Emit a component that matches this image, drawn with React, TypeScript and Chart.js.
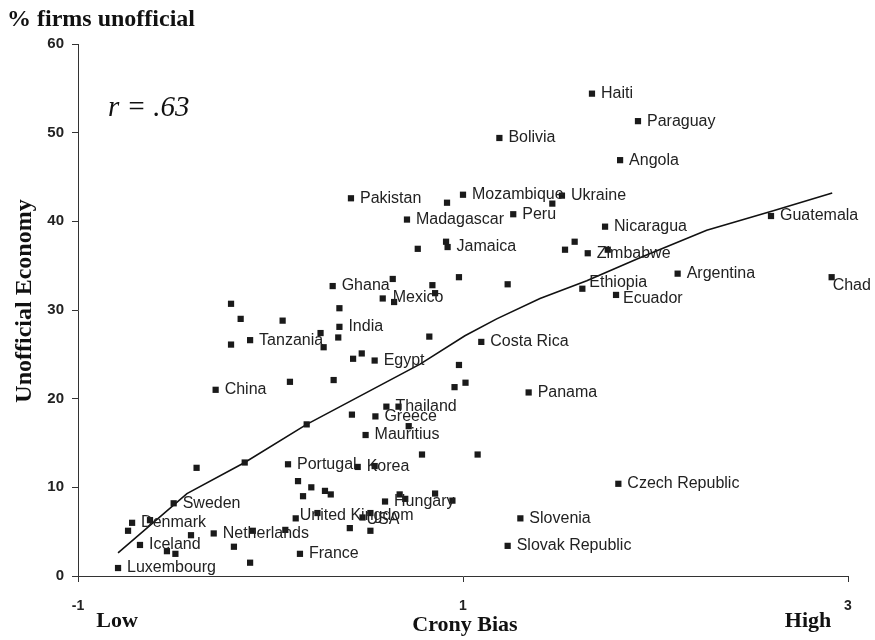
import React, { useEffect, useRef } from 'react';
import { Chart, registerables } from 'chart.js';

Chart.register(...registerables);

// ---- data ----
const countries = [
  'Haiti', 'Paraguay', 'Bolivia', 'Angola', 'Pakistan', 'Mozambique', '', 'Ukraine', '', 'Madagascar',
  'Peru', 'Nicaragua', 'Guatemala', 'Jamaica', '', '', '', '', 'Zimbabwe', '',
  'Argentina', 'Chad', 'Ethiopia', 'Ecuador', '', '', 'Ghana', '', '', '',
  'Mexico', '', '', '', '', '', 'India', '', '', 'Tanzania',
  '', '', '', '', '', 'Egypt', 'China', '', '', '',
  '', '', 'Thailand', '', '', 'Greece', '', '', 'Mauritius', '',
  '', '', '', 'Portugal', 'Korea', '', '', '', '', '',
  '', '', '', 'Hungary', '', '', 'Sweden', 'United Kingdom', '', 'USA',
  '', '', '', 'Denmark', '', '', 'Netherlands', '', '', '',
  'Iceland', '', '', '', 'France', '', 'Luxembourg', 'Costa Rica', 'Panama', 'Czech Republic',
  'Slovenia', 'Slovak Republic',
];

const crony = [
  1.670, 1.909, 1.189, 1.816, 0.418, 1.000, 0.917, 1.514, 1.464, 0.709,
  1.261, 1.738, 2.600, 0.920, 0.912, 0.765, 1.530, 1.580, 1.648, 1.752,
  2.115, 2.915, 1.620, 1.795, 0.979, 1.232, 0.323, 0.635, 0.841, 0.855,
  0.583, 0.642, -0.205, 0.358, -0.155, 0.063, 0.358, 0.260, 0.352, -0.106,
  -0.205, 0.276, 0.825, 0.429, 0.474, 0.541, -0.285, 0.101, 0.328, 0.979,
  0.956, 1.013, 0.602, 0.665, 0.423, 0.545, 0.188, 0.718, 0.494, 0.787,
  1.076, -0.384, -0.134, 0.091, 0.453, 0.541, 0.143, 0.212, 0.169, 0.283,
  0.313, 0.671, 0.700, 0.595, 0.855, 0.945, -0.503, 0.131, 0.244, 0.478,
  0.519, 0.412, 0.519, -0.719, -0.626, -0.740, -0.295, -0.413, -0.092, 0.077,
  -0.678, -0.538, -0.494, -0.190, 0.153, -0.106, -0.792, 1.095, 1.341, 1.807,
  1.298, 1.232,
];

const unofficial = [
  54.4, 51.3, 49.4, 46.9, 42.6, 43.0, 42.1, 42.9, 42.0, 40.2,
  40.8, 39.4, 40.6, 37.1, 37.7, 36.9, 36.8, 37.7, 36.4, 36.8,
  34.1, 33.7, 32.4, 31.7, 33.7, 32.9, 32.7, 33.5, 32.8, 31.9,
  31.3, 30.9, 30.7, 30.2, 29.0, 28.8, 28.1, 27.4, 26.9, 26.6,
  26.1, 25.8, 27.0, 24.5, 25.1, 24.3, 21.0, 21.9, 22.1, 23.8,
  21.3, 21.8, 19.1, 19.1, 18.2, 18.0, 17.1, 16.9, 15.9, 13.7,
  13.7, 12.2, 12.8, 12.6, 12.3, 12.4, 10.7, 10.0, 9.0, 9.6,
  9.2, 9.2, 8.7, 8.4, 9.3, 8.5, 8.2, 6.5, 7.1, 6.6,
  7.1, 5.4, 5.1, 6.0, 6.3, 5.1, 4.8, 4.6, 5.1, 5.2,
  3.5, 2.8, 2.5, 3.3, 2.5, 1.5, 0.9, 26.4, 20.7, 10.4,
  6.5, 3.4,
];

// fitted curve
const fitCrony = [-0.792, -0.434, -0.134, 0.188, 0.777, 1.01, 1.175, 1.4, 1.643, 1.919, 2.266, 2.612, 2.918];
const fitUnofficial = [2.6, 9.3, 12.8, 17.1, 23.9, 27.1, 29.0, 31.3, 33.3, 35.9, 39.0, 41.2, 43.2];

const xTicks = [-1, 1, 3];
const yTicks = [0, 10, 20, 30, 40, 50, 60];

const yTitle = '% firms unofficial';
const yAxisLabel = 'Unofficial Economy';
const xAxisLabel = 'Crony Bias';
const lowLabel = 'Low';
const highLabel = 'High';
const corrLabel = 'r = .63';

// label placement tweaks (pixels) relative to the marker
const labelOffsets: Record<string, [number, number]> = {
  Chad: [1, 8],
  Ecuador: [7, 4],
  Ethiopia: [7, -6],
  'United Kingdom': [4, -3],
  USA: [4, 2],
  Mexico: [10, -1],
};

const SANS = '"Liberation Sans", Arial, Helvetica, sans-serif';
const SERIF = '"Liberation Serif", "Times New Roman", Times, serif';

const annotPlugin = {
  id: 'annot',
  afterDatasetsDraw(chart: any) {
    const ctx = chart.ctx as CanvasRenderingContext2D;
    const meta = chart.getDatasetMeta(0);
    ctx.save();
    ctx.font = `16px ${SANS}`;
    ctx.fillStyle = '#222';
    ctx.textAlign = 'left';
    ctx.textBaseline = 'middle';
    meta.data.forEach((el: any, i: number) => {
      const name = countries[i];
      if (!name) return;
      const off = labelOffsets[name] || [9, 0];
      ctx.fillText(name, el.x + off[0], el.y + off[1]);
    });
    ctx.restore();
  },
  afterDraw(chart: any) {
    const ctx = chart.ctx as CanvasRenderingContext2D;
    const xs = chart.scales.x;
    ctx.save();
    ctx.fillStyle = '#111';
    ctx.textBaseline = 'alphabetic';
    ctx.textAlign = 'left';
    ctx.font = `bold 24px ${SERIF}`;
    ctx.fillText(yTitle, 7, 26);

    ctx.font = `italic 29px ${SERIF}`;
    ctx.fillText(corrLabel, 108, 116);

    ctx.font = `bold 22px ${SERIF}`;
    ctx.textAlign = 'center';
    ctx.fillText(lowLabel, 117, 627);
    ctx.fillText(highLabel, 808, 627);
    ctx.fillText(xAxisLabel, xs.getPixelForValue(1) + 2, 631);

    ctx.save();
    ctx.translate(25, 301);
    ctx.rotate(-Math.PI / 2);
    ctx.textBaseline = 'middle';
    ctx.font = `bold 24px ${SERIF}`;
    ctx.fillText(yAxisLabel, 0, 0);
    ctx.restore();
    ctx.restore();
  },
};

export default function App() {
  const ref = useRef<HTMLCanvasElement>(null);
  useEffect(() => {
    document.body.style.margin = '0';
    const points = crony.map((x, i) => ({ x, y: unofficial[i] }));
    const fit = fitCrony.map((x, i) => ({ x, y: fitUnofficial[i] }));
    const chart = new Chart(ref.current!, {
      type: 'scatter',
      data: {
        datasets: [
          {
            data: points,
            pointStyle: 'rect',
            pointRadius: 4.4,
            pointHoverRadius: 4.4,
            backgroundColor: '#1a1a1a',
            borderWidth: 0,
          },
          {
            type: 'line',
            data: fit,
            showLine: true,
            borderColor: '#111',
            borderWidth: 1.6,
            pointRadius: 0,
            fill: false,
            tension: 0,
          } as any,
        ],
      },
      options: {
        animation: false,
        responsive: false,
        devicePixelRatio: 1,
        layout: { padding: { top: 44, right: 27, left: 0, bottom: 0 } },
        plugins: { legend: { display: false }, tooltip: { enabled: false } },
        scales: {
          x: {
            type: 'linear',
            min: -1,
            max: 3,
            afterBuildTicks: (s: any) => { s.ticks = xTicks.map((v) => ({ value: v })); },
            afterFit: (s: any) => { s.height = 64; },
            ticks: { font: { family: SANS, size: 14, weight: 'bold' }, color: '#222', padding: 16, maxRotation: 0 },
            grid: { drawOnChartArea: false, tickLength: 6, color: '#333' },
            border: { color: '#333', width: 1 },
          },
          y: {
            type: 'linear',
            min: 0,
            max: 60,
            afterBuildTicks: (s: any) => { s.ticks = yTicks.map((v) => ({ value: v })); },
            afterFit: (s: any) => { s.width = 78; },
            ticks: { font: { family: SANS, size: 15, weight: 'bold' }, color: '#222', padding: 8 },
            grid: { drawOnChartArea: false, tickLength: 6, color: '#333' },
            border: { color: '#333', width: 1 },
          },
        },
      },
      plugins: [annotPlugin],
    });
    return () => chart.destroy();
  }, []);
  return <canvas ref={ref} width={875} height={640} style={{ display: 'block', width: 875, height: 640 }} />;
}
